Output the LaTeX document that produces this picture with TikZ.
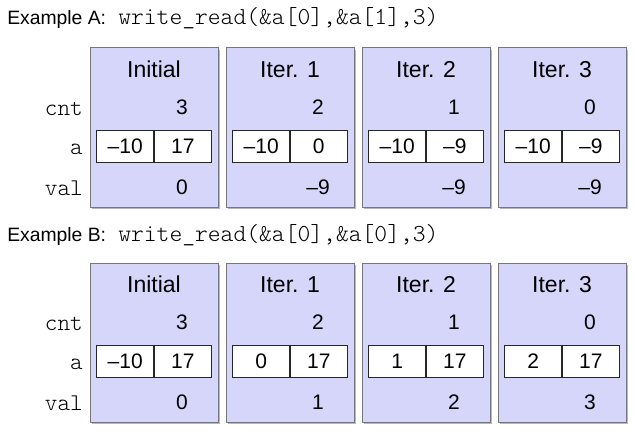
\documentclass[tikz,border=0pt]{standalone}
\usepackage{fontspec}
\setmainfont{Liberation Sans}
\setmonofont{Latin Modern Mono Light}
\usetikzlibrary{shadows,positioning}

\definecolor{panelfill}{RGB}{214,214,250}
\definecolor{panelline}{RGB}{118,118,124}

\tikzset{
	panel/.style={draw=panelline, line width=0.75pt, fill=panelfill, inner sep=0pt,
		minimum width=96pt, minimum height=119.25pt,
		drop shadow={shadow xshift=1.6pt, shadow yshift=-1.6pt, opacity=0.4, fill=black!70}},
	cell/.style={draw=black!85, line width=0.75pt, fill=white, inner sep=0pt,
		minimum width=42.4pt, minimum height=24pt, font=\fontsize{15.75}{18}\selectfont},
	num/.style={inner sep=0pt, font=\fontsize{15.75}{18}\selectfont},
	ptitle/.style={inner sep=0pt, font=\fontsize{17.25}{20}\selectfont},
	varname/.style={anchor=base east, inner sep=0pt, font=\ttfamily\fontsize{18}{20}\selectfont},
	extitle/.style={anchor=base west, inner sep=0pt, font=\fontsize{14.5}{17}\selectfont},
	excode/.style={anchor=base west, inner sep=0pt, font=\ttfamily\fontsize{18.3}{20}\selectfont}
}

\begin{document}
\begin{tikzpicture}[x=0.75pt,y=-0.75pt]
	\useasboundingbox (0,0) rectangle (634,435);

	% example A
	\node[extitle] (tA) at (7,25) {Example A:};
	\node[excode] (cA) at (118,25) {write\_read(\&a[0],\&a[1],3)};
	\foreach \i/\ttl/\c/\p/\q/\v in {0/Initial/3/--10/17/0, 1/Iter. 1/2/--10/0/--9, 2/Iter. 2/1/--10/--9/--9, 3/Iter. 3/0/--10/--9/--9} {
		\node[panel] (pA\i) at (154+136*\i,127.5) {};
		\node[ptitle] (hA\i) at (154+136*\i,69.5) {\ttl};
		\node[num] (cntA\i) at (182+136*\i,107.5) {\c};
		\node[cell] (lA\i) at (125.25+136*\i,146) {\p};
		\node[cell, anchor=west] (rA\i) at (lA\i.east) {\q};
		\node[num] (valA\i) at (182+136*\i,187.5) {\v};
	}
	\node[varname] (cntA) at (83,115) {cnt};
	\node[varname] (aA) at (83,154) {a};
	\node[varname] (valA) at (83,195) {val};

	% example B
	\node[extitle] (tB) at (7,241) {Example B:};
	\node[excode] (cB) at (118,241) {write\_read(\&a[0],\&a[0],3)};
	\foreach \i/\ttl/\c/\p/\q/\v in {0/Initial/3/--10/17/0, 1/Iter. 1/2/0/17/1, 2/Iter. 2/1/1/17/2, 3/Iter. 3/0/2/17/3} {
		\node[panel] (pB\i) at (154+136*\i,342.5) {};
		\node[ptitle] (hB\i) at (154+136*\i,284.5) {\ttl};
		\node[num] (cntB\i) at (182+136*\i,322.5) {\c};
		\node[cell] (lB\i) at (125.25+136*\i,361) {\p};
		\node[cell, anchor=west] (rB\i) at (lB\i.east) {\q};
		\node[num] (valB\i) at (182+136*\i,402.5) {\v};
	}
	\node[varname] (cntB) at (83,330) {cnt};
	\node[varname] (aB) at (83,369) {a};
	\node[varname] (valB) at (83,410) {val};
\end{tikzpicture}
\end{document}
